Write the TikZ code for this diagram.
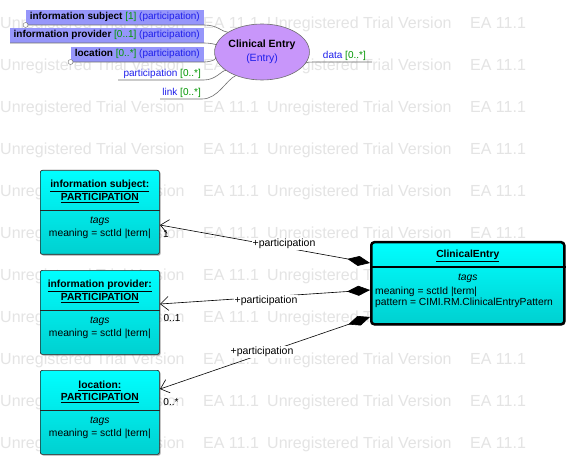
\documentclass[tikz,border=0pt]{standalone}
\usepackage{fontspec}
\setmainfont{Liberation Sans}
\usetikzlibrary{arrows.meta,shapes.geometric,calc,shadows}
\definecolor{wm}{RGB}{228,228,228}
\definecolor{mmbox}{RGB}{150,150,250}
\definecolor{mmblue}{RGB}{30,30,235}
\definecolor{mmgreen}{RGB}{0,150,0}
\definecolor{ellfill}{RGB}{200,150,250}
\definecolor{cyanA}{RGB}{0,255,255}
\definecolor{cyanB}{RGB}{0,208,208}
\definecolor{mmgray}{RGB}{110,110,110}
\tikzset{
  wmt/.style={anchor=base west, inner sep=0pt, text=wm, font=\fontsize{16}{16}\selectfont},
  mmb/.style={fill=mmbox, anchor=south east, minimum height=15pt, inner xsep=4pt, inner ysep=0pt, font=\fontsize{10}{12}\selectfont},
  mmt/.style={anchor=base east, inner sep=0pt, font=\fontsize{10}{12}\selectfont},
  mmline/.style={draw=mmgray, line width=0.6pt},
  knob/.style={circle, draw=mmgray, fill=white, inner sep=0pt, minimum size=5pt},
  umlbox/.style={draw=black!85, line width=0.7pt, rounded corners=2pt, top color=cyanA, bottom color=cyanB, anchor=north west,
     drop shadow={shadow xshift=1.2pt, shadow yshift=-1.2pt, opacity=0.35, fill=black}},
  utxt/.style={inner sep=0pt, font=\fontsize{10.3}{12}\selectfont},
  lbl/.style={inner sep=1pt, fill=white, font=\fontsize{10.5}{12}\selectfont},
  mult/.style={inner sep=0pt, font=\fontsize{10}{12}\selectfont},
  assoc/.style={draw=black, line width=0.6pt,
     {Diamond[length=23pt,width=10pt,fill=black]}-{Straight Barb[length=8pt,width=14pt,line width=0.6pt]}}
}
\begin{document}
\begin{tikzpicture}[x=1pt,y=-1pt]
\useasboundingbox (0,0) rectangle (573,465);
\fill[white] (0,0) rectangle (573,465);
% watermark
\foreach \k in {0,...,10}{
  \pgfmathsetmacro{\yy}{29+41.9*\k}
  \node[wmt] (wa\k) at (0,\yy) {Unregistered Trial Version};
  \node[wmt] (wb\k) at (203,\yy) {EA 11.1};
  \node[wmt] (wc\k) at (267,\yy) {Unregistered Trial Version};
  \node[wmt] (wd\k) at (470,\yy) {EA 11.1};
}
% mind map
\node[ellipse, draw=mmgray, line width=0.6pt, fill=ellfill, minimum width=78pt, minimum height=56pt, inner sep=0pt, align=center,
      font=\fontsize{10.5}{14}\selectfont] (ell) at (262,52) {\textbf{Clinical Entry}\\\textcolor{mmblue}{(Entry)}};

\node[mmb] (b1) at (204,25) {\textbf{information subject} \textcolor{mmgreen}{[1]} \textcolor{mmblue}{(participation)}};
\node[mmb] (b2) at (204,43) {\textbf{information provider} \textcolor{mmgreen}{[0..1]} \textcolor{mmblue}{(participation)}};
\node[mmb] (b3) at (204,62) {\textbf{location} \textcolor{mmgreen}{[0..*]} \textcolor{mmblue}{(participation)}};
\node[mmt] (t4) at (201,77) {\textcolor{mmblue}{participation} \textcolor{mmgreen}{[0..*]}};
\node[mmt] (t5) at (201,96) {\textcolor{mmblue}{link} \textcolor{mmgreen}{[0..*]}};
\node[mmt] (t6) at (366,59) {\textcolor{mmblue}{data} \textcolor{mmgreen}{[0..*]}};

\coordinate (l4a) at (118,80);
\coordinate (l4b) at (204,80);
\coordinate (l5a) at (160,99);
\coordinate (l5b) at (202,99);
\coordinate (l6a) at (318,62);
\coordinate (l6b) at (372,62);
\coordinate (l2a) at (10,43);

\draw[mmline] (b1.south west) -- (b1.south east) .. controls (218,25) and (222,32) .. (ell.150);
\draw[mmline] (l2a) -- (b2.south east) .. controls (214,43) and (218,46) .. (ell.170);
\draw[mmline] (b3.south west) -- (b3.south east) .. controls (214,62) and (218,57) .. (ell.187);
\draw[mmline] (l4a) -- (l4b) .. controls (216,80) and (222,70) .. (ell.207);
\draw[mmline] (l5a) -- (l5b) .. controls (218,99) and (226,80) .. (ell.222);
\draw[mmline] (ell.-15) .. controls (305,62) and (310,62) .. (l6a) -- (l6b);
\node[knob] (k1) at (b1.south west) {};
\node[knob] (k3) at (b3.south west) {};

% UML boxes
\node[umlbox, minimum width=119pt, minimum height=84pt] (p1) at (40,170) {};
\node[umlbox, minimum width=119pt, minimum height=84pt] (p2) at (40,270) {};
\node[umlbox, minimum width=119pt, minimum height=84pt] (p3) at (40,370) {};
\foreach \p/\t in {p1/information subject:, p2/information provider:, p3/location:}{
  \draw[black!85, line width=0.7pt] ($(\p.north west)+(0,40)$) -- ($(\p.north east)+(0,40)$);
  \node[utxt, font=\fontsize{10.3}{12}\selectfont\bfseries] (\p-a) at ($(\p.north)+(0,16)$) {\underline{\t}};
  \node[utxt, font=\fontsize{10.3}{12}\selectfont\bfseries] (\p-b) at ($(\p.north)+(0,28)$) {\underline{PARTICIPATION}};
  \node[utxt, font=\fontsize{10.3}{12}\selectfont\itshape] (\p-c) at ($(\p.north)+(0,51)$) {tags};
  \node[utxt] (\p-d) at ($(\p.north)+(0,64)$) {meaning = sctId |term|};
}

\node[umlbox, draw=black, line width=2.5pt, rounded corners=3pt, minimum width=193pt, minimum height=82pt] (ce) at (370,241) {};
\draw[black, line width=2pt] ($(ce.north west)+(0,26)$) -- ($(ce.north east)+(0,26)$);
\node[utxt, font=\fontsize{10.3}{12}\selectfont\bfseries] (ce-a) at ($(ce.north)+(0,15)$) {\underline{ClinicalEntry}};
\node[utxt, font=\fontsize{10.3}{12}\selectfont\itshape] (ce-b) at ($(ce.north)+(0,37)$) {tags};
\node[utxt, anchor=west] (ce-c) at (375,292) {meaning = sctId |term|};
\node[utxt, anchor=west] (ce-d) at (375,303) {pattern = CIMI.RM.ClinicalEntryPattern};

% associations
\coordinate (c1a) at (370,263);
\coordinate (c1b) at (160,225);
\coordinate (c2a) at (370,290);
\coordinate (c2b) at (160,304);
\coordinate (c3a) at (370,317);
\coordinate (c3b) at (160,389);
\draw[assoc] (c1a) -- (c1b);
\draw[assoc] (c2a) -- (c2b);
\draw[assoc] (c3a) -- (c3b);
\node[lbl] (lb1) at (284,244) {+participation};
\node[lbl] (lb2) at (266,301) {+participation};
\node[lbl] (lb3) at (262,352) {+participation};
\node[mult] (m1) at (166,234) {1};
\node[mult] (m2) at (172,318) {0..1};
\node[mult] (m3) at (171,402) {0..*};
\end{tikzpicture}
\end{document}
